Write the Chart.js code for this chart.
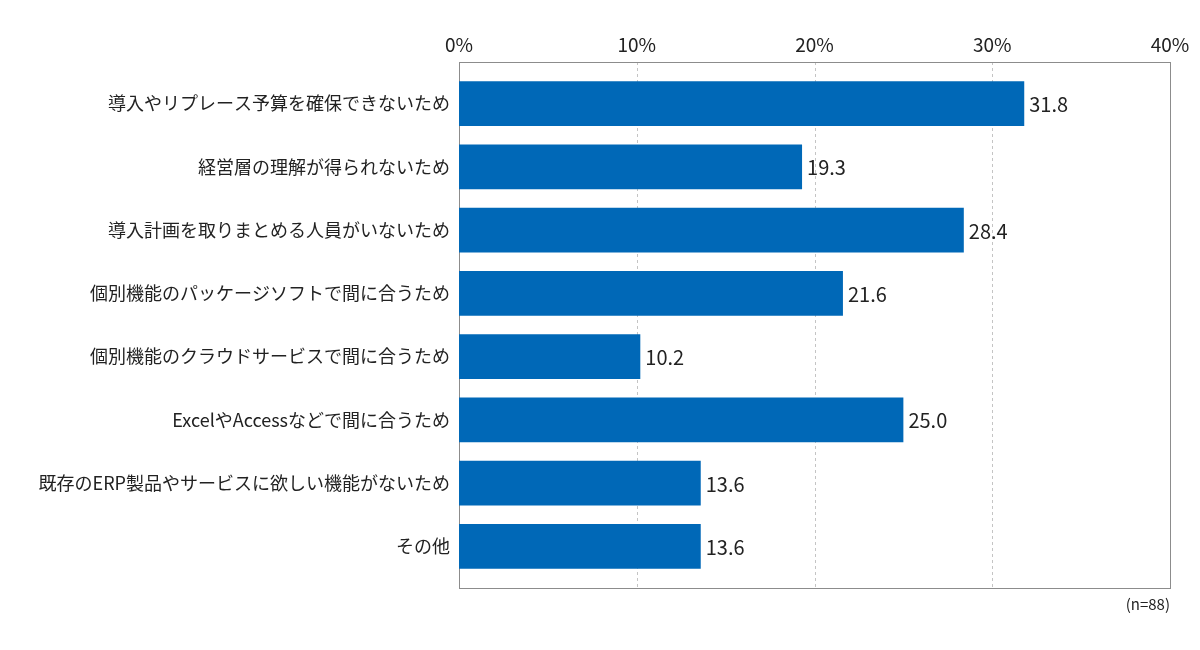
<!DOCTYPE html>
<html>
<head>
<meta charset="utf-8">
<script src="https://cdn.jsdelivr.net/npm/chart.js@4"></script>
<style>
    html, body { margin: 0; padding: 0; background: #fff; }
    #wrap { position: relative; width: 1200px; height: 650px; }
</style>
</head>
<body>
<div id="wrap"><canvas id="reasonChart" width="1200" height="650"></canvas></div>
<script>
const reasons = [
    '導入やリプレース予算を確保できないため',
    '経営層の理解が得られないため',
    '導入計画を取りまとめる人員がいないため',
    '個別機能のパッケージソフトで間に合うため',
    '個別機能のクラウドサービスで間に合うため',
    'ExcelやAccessなどで間に合うため',
    '既存のERP製品やサービスに欲しい機能がないため',
    'その他'
]
const shares = [31.8, 19.3, 28.4, 21.6, 10.2, 25.0, 13.6, 13.6]
const xTicks = [0, 10, 20, 30, 40]
const sampleNote = '(n=88)'

const FONT = '"Noto Sans CJK JP", "Noto Sans", sans-serif'
const PAD_Y = 10 // frame sits a bit outside the bar area

// frame, dashed grid, value labels, n note
const decorPlugin = {
    id: 'decor',
    beforeDatasetsDraw(chart) {
        const { ctx, chartArea } = chart
        const x = chart.scales.x
        const top = chartArea.top - PAD_Y
        const bottom = chartArea.bottom + PAD_Y
        ctx.save()
        ctx.strokeStyle = '#c4c4c4'
        ctx.lineWidth = 1
        ctx.setLineDash([3, 3])
        xTicks.slice(1, -1).forEach(v => {
            const px = Math.round(x.getPixelForValue(v)) + 0.5
            ctx.beginPath()
            ctx.moveTo(px, top)
            ctx.lineTo(px, bottom)
            ctx.stroke()
        })
        ctx.setLineDash([])
        ctx.strokeStyle = '#8c8c8c'
        const l = Math.round(x.getPixelForValue(xTicks[0])) + 0.5
        const r = Math.round(x.getPixelForValue(xTicks[xTicks.length - 1])) + 0.5
        ctx.strokeRect(l, Math.round(top) + 0.5, r - l, Math.round(bottom - top))
        ctx.restore()
    },
    afterDatasetsDraw(chart) {
        const { ctx, chartArea } = chart
        const meta = chart.getDatasetMeta(0)
        ctx.save()
        ctx.fillStyle = '#222'
        ctx.font = '20px ' + FONT
        ctx.textAlign = 'left'
        ctx.textBaseline = 'middle'
        meta.data.forEach((bar, i) => {
            ctx.fillText(shares[i].toFixed(1), bar.x + 5, bar.y + 1)
        })
        ctx.font = '15px ' + FONT
        ctx.textAlign = 'right'
        ctx.fillText(sampleNote, chart.scales.x.right, chartArea.bottom + PAD_Y + 16)
        ctx.restore()
    }
}

const ctx = document.getElementById('reasonChart').getContext('2d')
new Chart(ctx, {
    type: 'bar',
    data: {
        labels: reasons,
        datasets: [{
            data: shares,
            backgroundColor: '#0068b7',
            borderWidth: 0,
            barPercentage: 0.71,
            categoryPercentage: 1
        }]
    },
    options: {
        indexAxis: 'y',
        responsive: false,
        animation: false,
        layout: { padding: { left: 0, right: 30, top: 0, bottom: 72 } },
        plugins: { legend: { display: false }, tooltip: { enabled: false } },
        scales: {
            x: {
                position: 'top',
                min: 0,
                max: 40,
                afterFit(scale) {
                    scale.height = 72
                    scale.paddingLeft = 0
                    scale.paddingRight = 0
                },
                afterBuildTicks(scale) { scale.ticks = xTicks.map(v => ({ value: v })) },
                grid: { display: false, drawTicks: false },
                border: { display: false },
                ticks: {
                    padding: 16,
                    color: '#222',
                    font: { family: FONT, size: 19 },
                    callback: v => v + '%'
                }
            },
            y: {
                afterFit(scale) { scale.width = 459 },
                grid: { display: false, drawTicks: false },
                border: { display: false },
                ticks: {
                    padding: 9,
                    color: '#222',
                    font: { family: FONT, size: 18 }
                }
            }
        }
    },
    plugins: [decorPlugin]
})
</script>
</body>
</html>
